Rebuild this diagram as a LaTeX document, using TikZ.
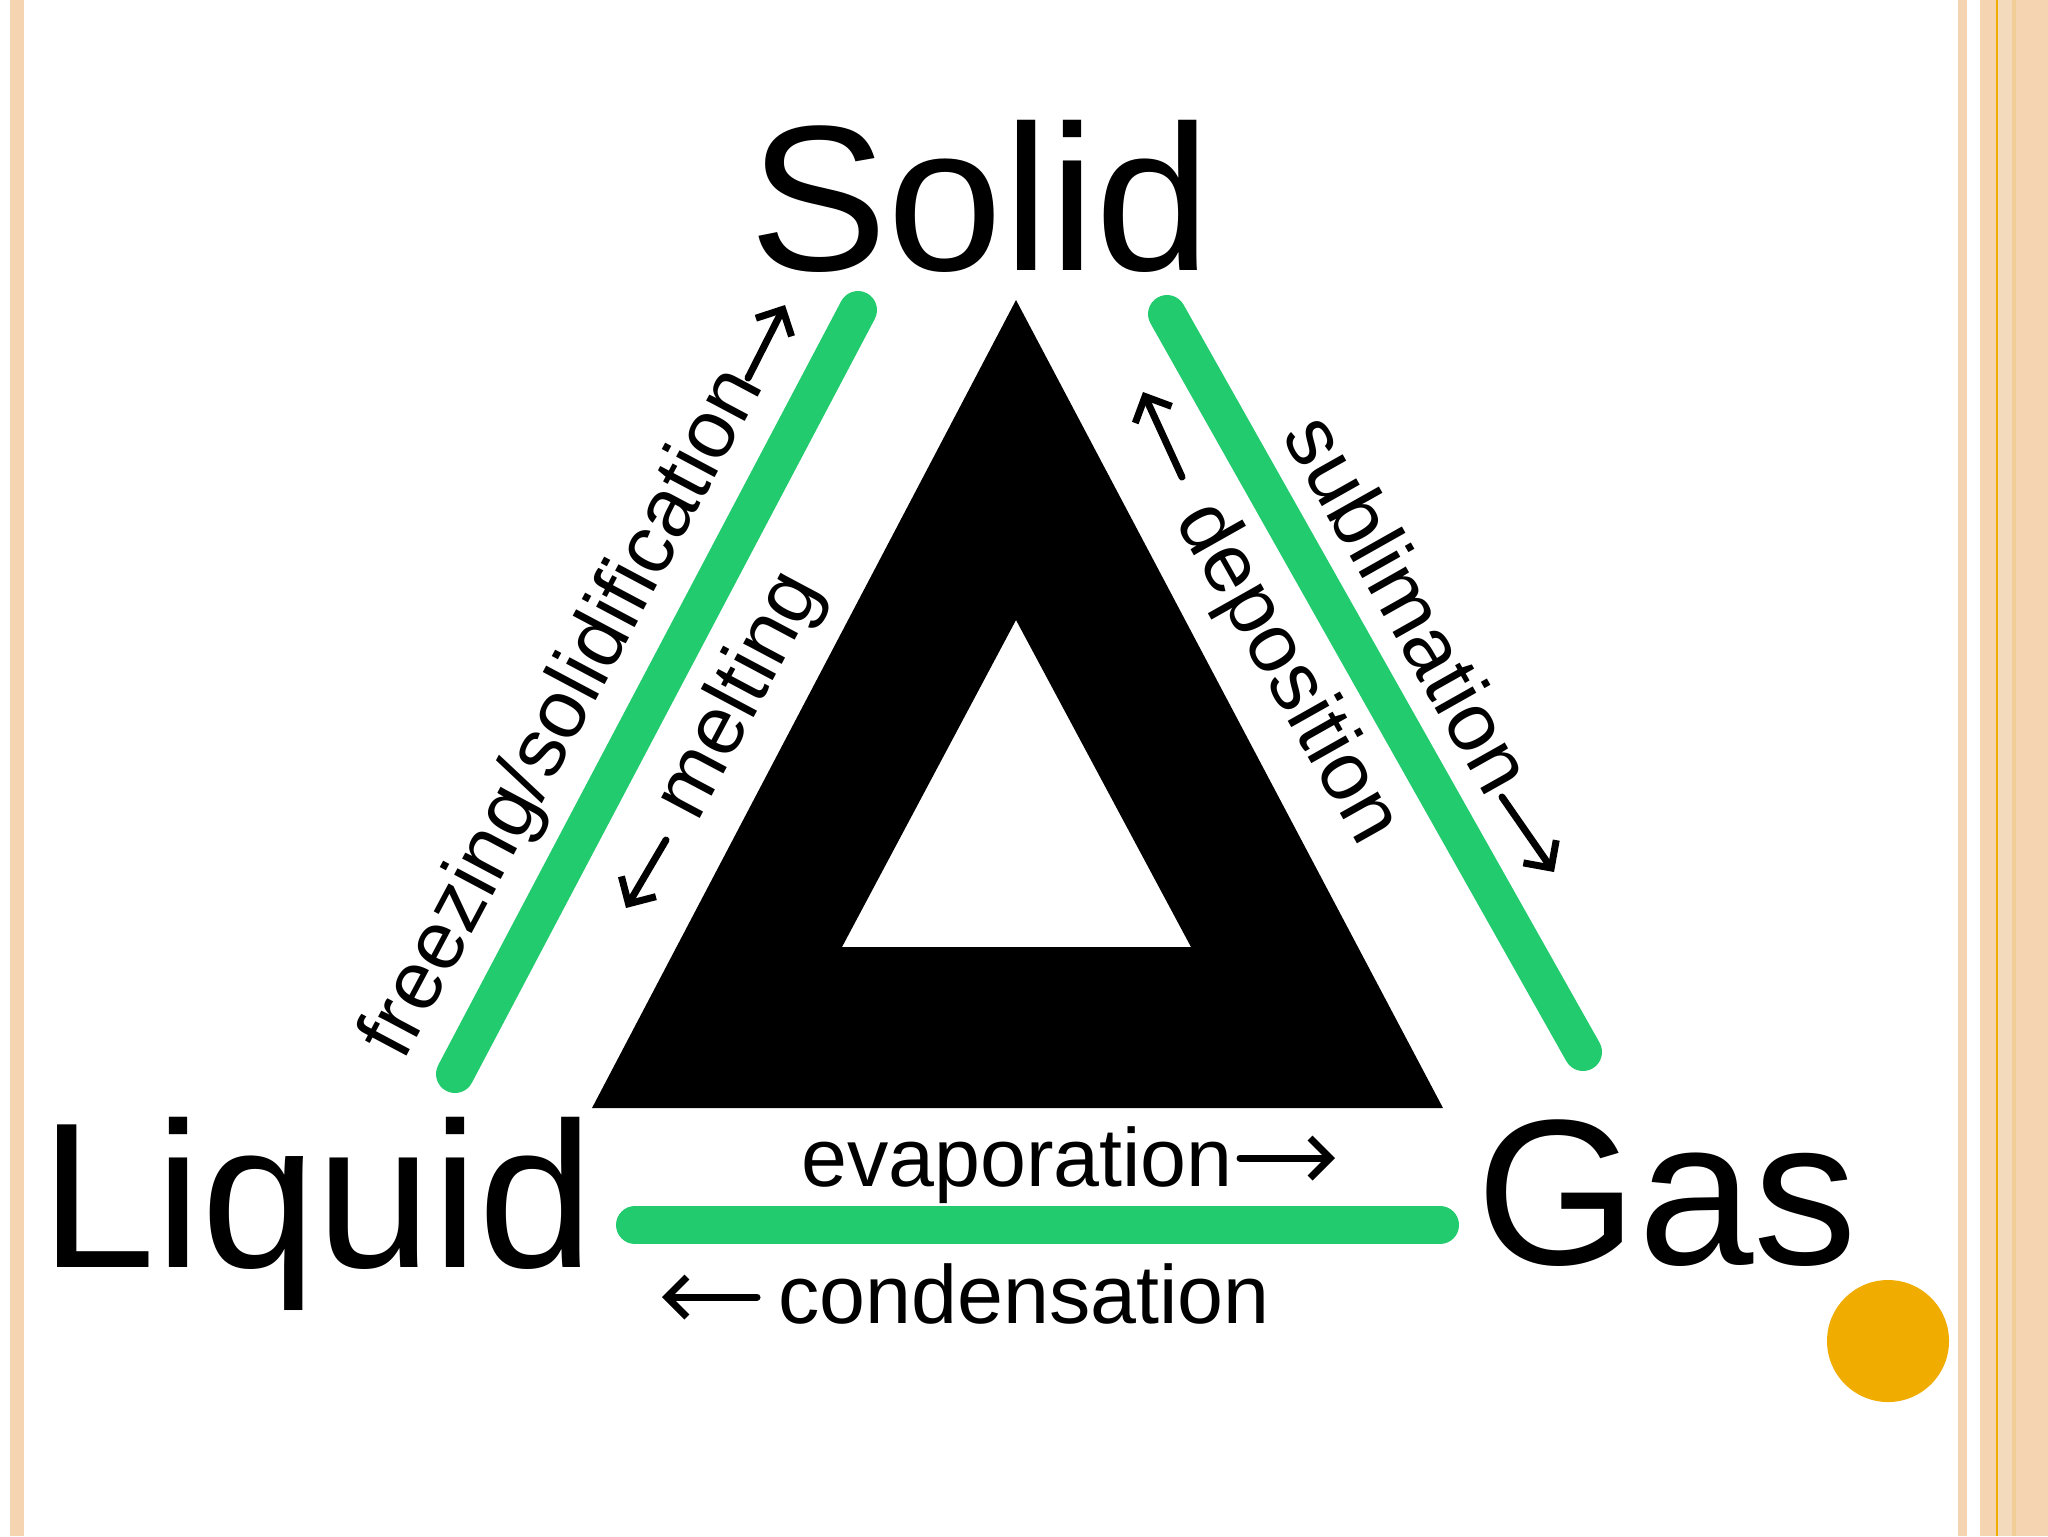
\documentclass[tikz,border=0pt]{standalone}
\usepackage{fontspec}
\setmainfont{Liberation Sans}
\usetikzlibrary{arrows.meta}
\definecolor{peach}{RGB}{245,212,178}
\definecolor{peachlt}{RGB}{243,218,188}
\definecolor{peachdk}{RGB}{240,206,150}
\definecolor{crayon}{RGB}{34,204,110}
\definecolor{amber}{RGB}{240,173,0}

\begin{document}
\begin{tikzpicture}[x=0.1mm, y=-0.1mm,
		big/.style={anchor=base, inner sep=0pt, font=\fontsize{59}{62}\selectfont},
		lbl/.style={inner sep=0pt, font=\fontsize{23.5}{25}\selectfont},
		band/.style={crayon, line width=3.8mm, line cap=round},
		arr/.style={-{Straight Barb[length=2mm, width=4mm, line width=0.7mm]}, line width=0.7mm, line cap=round}]
		\useasboundingbox (0,0) rectangle (2048,1536);
		\fill[white] (0,0) rectangle (2048,1536);
		\fill[peach] (10,0) rectangle (24,1536);
		\fill[peach] (1958,0) rectangle (1967,1536);
		\fill[peach] (1980,0) rectangle (2048,1536);
		\fill[peachlt] (1998,0) rectangle (2012,1536);
		\fill[peachdk] (2012,0) rectangle (2016,1536);
		\fill[amber] (1996,0) rectangle (1998,1536);
		\fill[amber] (1888,1341) circle (61);

		\fill[black, even odd rule] (1016,300) -- (592,1108) -- (1443,1108) -- cycle
			(1016,620) -- (842,947) -- (1191,947) -- cycle;

		\draw[band] (455,1074) -- (858,310);
		\draw[band] (1167,314) -- (1583,1052);
		\draw[band] (635,1225) -- (1440,1225);

		\node[big] (sol) at (980,270) {Solid};
		\node[big] (liq) at (317,1267) {Liquid};
		\node[big] (gas) at (1667,1264) {Gas};

		\node[lbl, rotate=62] (frz) at (565,714) {freezing/solidification};
		\node[lbl, rotate=62] (mlt) at (741,696) {melting};
		\node[lbl, rotate=-60.6] (sub) at (1410,603) {sublimation};
		\node[lbl, rotate=-60.6] (dep) at (1286,674) {deposition};
		\node[lbl, anchor=base] (evp) at (1017,1186) {evaporation};
		\node[lbl, anchor=base] (cnd) at (1024,1323) {condensation};

		\coordinate (frz1) at (748,378);
		\coordinate (frz2) at (785,305);
		\coordinate (mlt1) at (666,840);
		\coordinate (mlt2) at (626,908);
		\coordinate (sub1) at (1502,797);
		\coordinate (sub2) at (1554,872);
		\coordinate (dep1) at (1182,477);
		\coordinate (dep2) at (1143,392);
		\coordinate (evp1) at (1240,1158);
		\coordinate (evp2) at (1335,1158);
		\coordinate (cnd1) at (757,1297);
		\coordinate (cnd2) at (662,1297);

		\draw[arr] (frz1) -- (frz2);
		\draw[arr] (mlt1) -- (mlt2);
		\draw[arr] (sub1) -- (sub2);
		\draw[arr] (dep1) -- (dep2);
		\draw[arr] (evp1) -- (evp2);
		\draw[arr] (cnd1) -- (cnd2);
	\end{tikzpicture}
\end{document}
